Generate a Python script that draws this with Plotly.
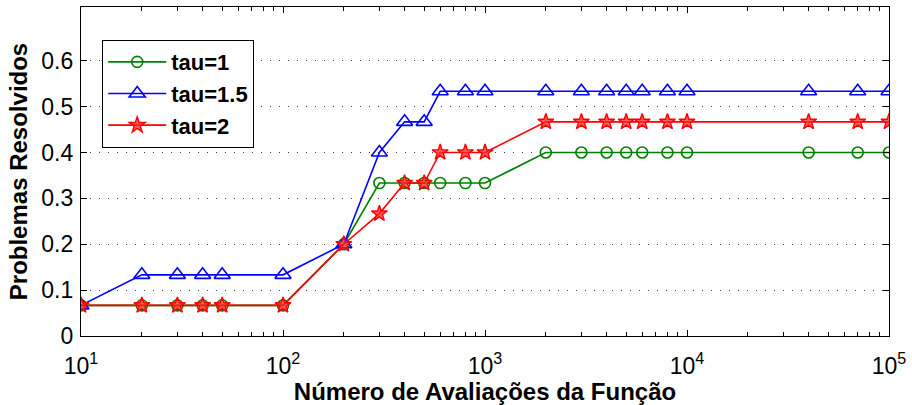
import plotly.graph_objects as go

evals = [10, 20, 30, 40, 50, 100, 200, 300, 400, 500, 600, 800, 1000,
         2000, 3000, 4000, 5000, 6000, 8000, 10000, 40000, 70000, 100000]
tau1 = [0.0667]*6 + [0.2] + [0.3333]*6 + [0.4]*10
tau15 = [0.0667] + [0.1333]*5 + [0.2, 0.4, 0.4667, 0.4667] + [0.5333]*13
tau2 = [0.0667]*6 + [0.2, 0.2667, 0.3333, 0.3333, 0.4, 0.4, 0.4] + [0.4667]*10

x_tickvals = [10, 100, 1000, 10000, 100000]
x_ticktext = ["10<sup>1</sup>", "10<sup>2</sup>", "10<sup>3</sup>", "10<sup>4</sup>", "10<sup>5</sup>"]
y_tickvals = [0, 0.1, 0.2, 0.3, 0.4, 0.5, 0.6]
y_ticktext = ["0", "0.1", "0.2", "0.3", "0.4", "0.5", "0.6"]

minor_vals = [m * d for d in [10, 100, 1000, 10000] for m in range(2, 10)]

FONT = "Arial"

fig = go.Figure()
fig.add_trace(go.Scatter(x=evals, y=tau1, name="tau=1", mode="lines+markers",
                         line=dict(color="#008000", width=1.6),
                         marker=dict(symbol="circle-open", size=11, color="#008000", line=dict(width=1.6))))
fig.add_trace(go.Scatter(x=evals, y=tau15, name="tau=1.5", mode="lines+markers",
                         line=dict(color="#0000ff", width=1.6),
                         marker=dict(symbol="triangle-up-open", size=14, color="#0000ff", line=dict(width=1.6))))
fig.add_trace(go.Scatter(x=evals, y=tau2, name="tau=2", mode="lines+markers",
                         line=dict(color="#ff0000", width=1.6),
                         marker=dict(symbol="star", size=12, color="rgba(255,40,40,0.75)", line=dict(width=1.4, color="#ff0000"))))

fig.update_layout(
    width=912, height=405,
    margin=dict(l=81, r=19, t=6, b=69),
    plot_bgcolor="white", paper_bgcolor="white",
    font=dict(family=FONT, size=23, color="black"),
    showlegend=True,
    legend=dict(x=0.026, y=0.9, xanchor="left", yanchor="top",
                bordercolor="black", borderwidth=1.2, bgcolor="white",
                font=dict(family=FONT, size=22, color="black", weight="bold"),
                itemwidth=58, tracegroupgap=0),
    xaxis=dict(type="log", range=[1, 5], tickvals=x_tickvals, ticktext=x_ticktext,
               ticks="inside", ticklen=6, tickcolor="black", showline=True, linecolor="black",
               linewidth=1.2, mirror="allticks", showgrid=False, zeroline=False,
               tickfont=dict(family=FONT, size=23, color="black"), ticklabelstandoff=9,
               minor=dict(tickvals=minor_vals, ticks="inside", ticklen=4, tickcolor="black", showgrid=False),
               title=dict(text="<b>Número de Avaliações da Função</b>", standoff=3,
                          font=dict(family=FONT, size=24, color="black"))),
    yaxis=dict(range=[0, 0.717], tickvals=y_tickvals, ticktext=y_ticktext,
               ticks="inside", ticklen=6, tickcolor="black", showline=True, linecolor="black",
               linewidth=1.2, mirror="allticks", zeroline=False,
               showgrid=True, gridcolor="#444444", gridwidth=1, griddash="1px,8px",
               tickfont=dict(family=FONT, size=23, color="black"), ticklabelstandoff=2,
               title=dict(text="<b>Problemas Resolvidos</b>", standoff=6,
                          font=dict(family=FONT, size=24, color="black"))),
)

fig.write_html("out.html")
